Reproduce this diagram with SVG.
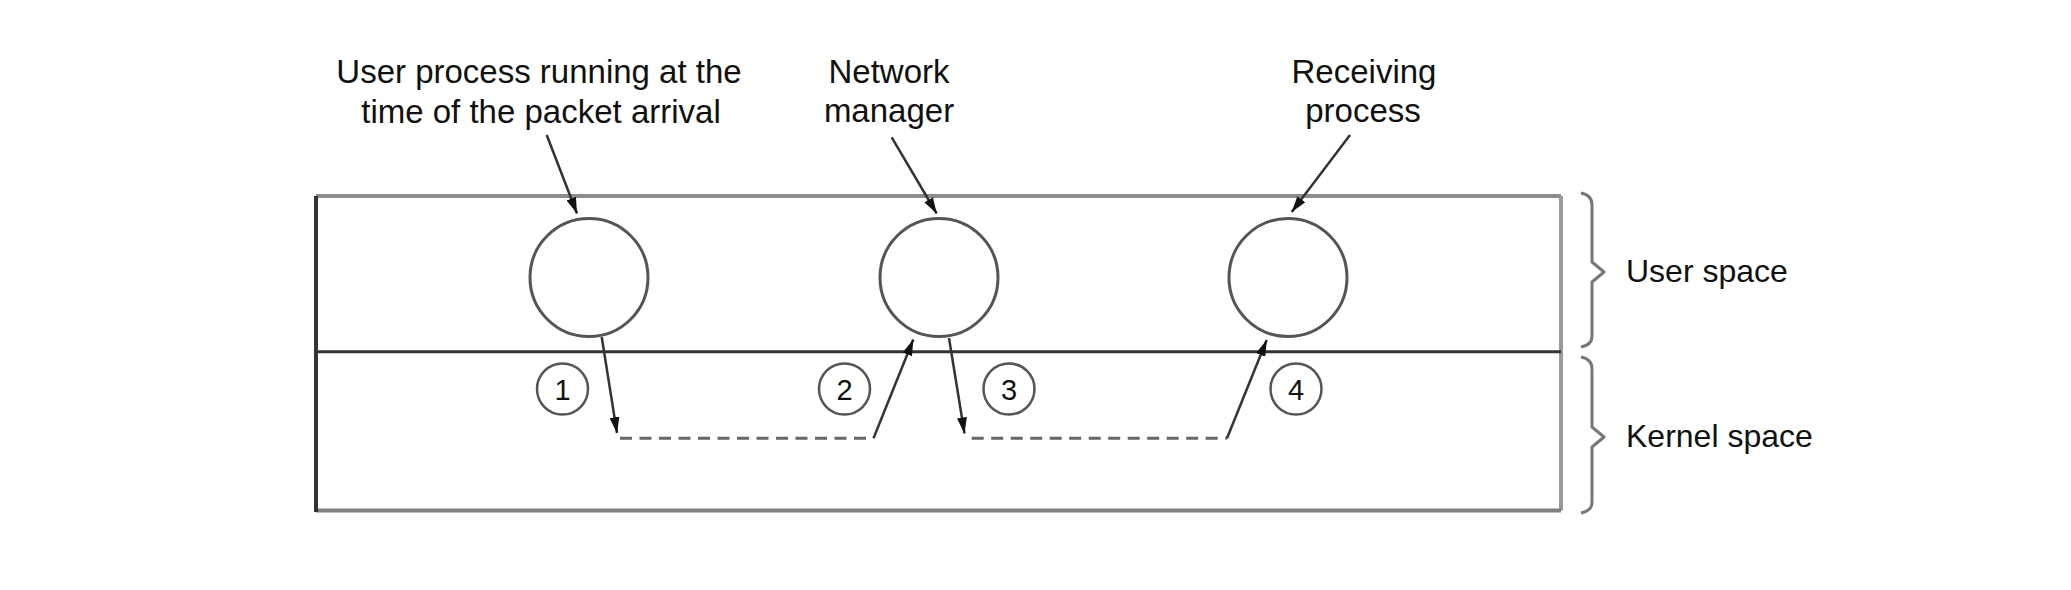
<svg xmlns="http://www.w3.org/2000/svg" width="2071" height="590" viewBox="0 0 2071 590">
<style>
  text { font-family: "Liberation Sans", Arial, sans-serif; fill: #111; }
  .lbl { font-size: 33px; text-anchor: middle; }
  .side { font-size: 32px; }
  .num { font-size: 29px; text-anchor: middle; }
  .big { fill: none; stroke: #555; stroke-width: 3; }
  .small { fill: none; stroke: #555; stroke-width: 2.5; }
  .solid { fill: none; stroke: #333; stroke-width: 2.5; }
  .dash { fill: none; stroke: #666; stroke-width: 3; stroke-dasharray: 12 7.5; }
  .brace { fill: none; stroke: #777; stroke-width: 3; stroke-linejoin: round; }
</style>
<defs>
  <marker id="ah" markerUnits="userSpaceOnUse" markerWidth="17" markerHeight="10" refX="16" refY="5" orient="auto">
    <path d="M0,0 L16,5 L0,10 z" fill="#111"/>
  </marker>
</defs>
<rect width="2071" height="590" fill="#fff"/>

<g id="frame">
  <line x1="316" y1="196" x2="1561" y2="196" stroke="#8c8c8c" stroke-width="4"/>
  <line x1="1561" y1="196" x2="1561" y2="510.5" stroke="#999" stroke-width="4"/>
  <line x1="316" y1="510.5" x2="1561" y2="510.5" stroke="#808080" stroke-width="4"/>
  <line x1="316" y1="196" x2="316" y2="512" stroke="#333" stroke-width="4"/>
  <line x1="316" y1="351.7" x2="1561" y2="351.7" stroke="#333" stroke-width="3"/>
</g>

<g id="braces">
  <path class="brace" d="M1581,193 Q1592,195 1592,205 L1592,262 L1604,272 L1592,282 L1592,336 Q1592,345 1581,347"/>
  <path class="brace" d="M1581,357 Q1592,359 1592,369 L1592,427 L1604,437 L1592,447 L1592,502 Q1592,511 1581,513"/>
  <text class="side" x="1626" y="282">User space</text>
  <text class="side" x="1626" y="447">Kernel space</text>
</g>

<g id="user-process">
  <circle class="big" cx="589" cy="277.5" r="59"/>
  <text class="lbl" x="539" y="83">User process running at the</text>
  <text class="lbl" x="541" y="123">time of the packet arrival</text>
</g>

<g id="network-manager">
  <circle class="big" cx="939" cy="277.5" r="59"/>
  <text class="lbl" x="889" y="83">Network</text>
  <text class="lbl" x="889" y="122">manager</text>
</g>

<g id="receiving-process">
  <circle class="big" cx="1288" cy="277.5" r="59"/>
  <text class="lbl" x="1364" y="83">Receiving</text>
  <text class="lbl" x="1363" y="122">process</text>
</g>

<g id="step1">
  <circle class="small" cx="562.5" cy="389" r="25.5"/>
  <text class="num" x="562.5" y="399.5">1</text>
</g>
<g id="step2">
  <circle class="small" cx="844.5" cy="389" r="25.5"/>
  <text class="num" x="844.5" y="399.5">2</text>
</g>
<g id="step3">
  <circle class="small" cx="1009" cy="389" r="25.5"/>
  <text class="num" x="1009" y="399.5">3</text>
</g>
<g id="step4">
  <circle class="small" cx="1296" cy="389" r="25.5"/>
  <text class="num" x="1296" y="399.5">4</text>
</g>

<g id="connectors">
  <line class="solid" x1="546.7" y1="135" x2="577" y2="213.5" marker-end="url(#ah)"/>
  <line class="solid" x1="891.7" y1="137.3" x2="936.7" y2="213.5" marker-end="url(#ah)"/>
  <line class="solid" x1="1350" y1="135" x2="1291.7" y2="212" marker-end="url(#ah)"/>

  <line class="solid" x1="601.7" y1="337" x2="617" y2="433" marker-end="url(#ah)"/>
  <line class="dash" x1="620" y1="438.3" x2="873.5" y2="438.3"/>
  <line class="solid" x1="873.5" y1="438.3" x2="913.3" y2="339.5" marker-end="url(#ah)"/>

  <line class="solid" x1="949" y1="338" x2="964.5" y2="433.5" marker-end="url(#ah)"/>
  <line class="dash" x1="971.7" y1="438.3" x2="1227" y2="438.3"/>
  <line class="solid" x1="1227" y1="438.3" x2="1266.7" y2="340" marker-end="url(#ah)"/>
</g>
</svg>
